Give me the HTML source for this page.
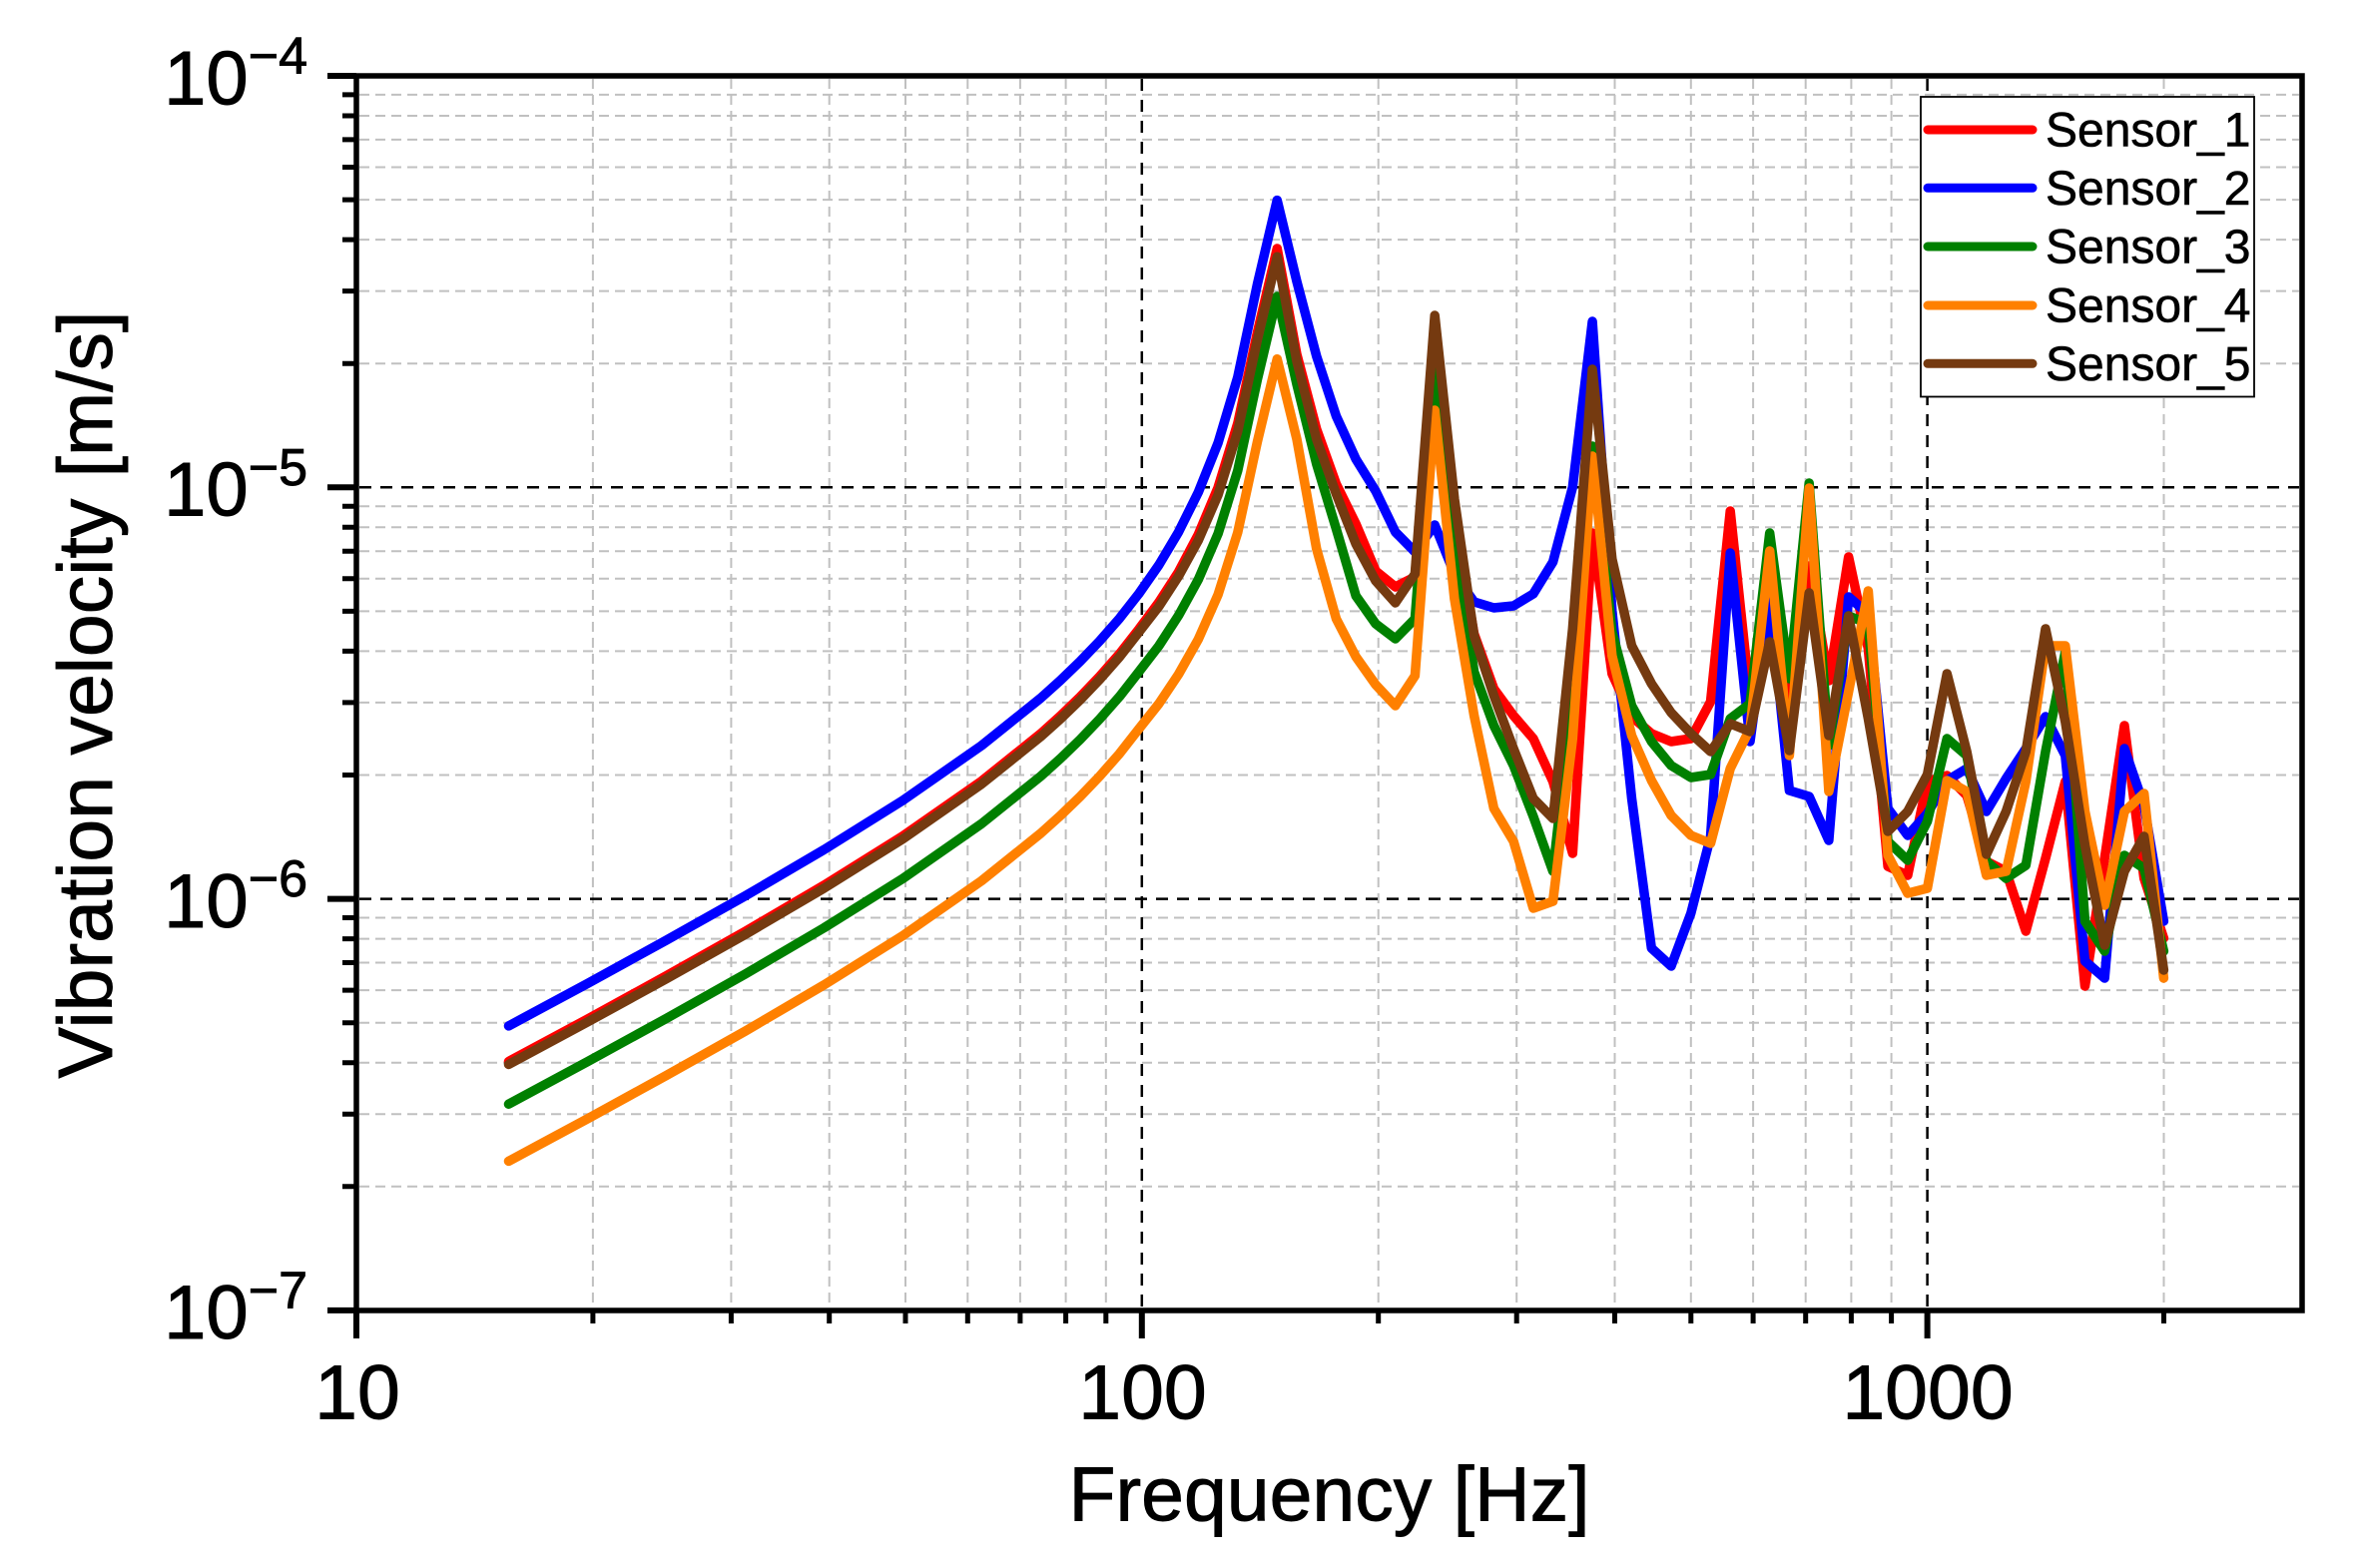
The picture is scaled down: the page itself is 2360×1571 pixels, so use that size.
<!DOCTYPE html>
<html><head><meta charset="utf-8"><style>html,body{margin:0;padding:0;background:#fff}svg{display:block}</style></head>
<body>
<svg width="2360" height="1571" viewBox="0 0 2360 1571" xmlns="http://www.w3.org/2000/svg" font-family="'Liberation Sans', Arial, sans-serif">
<rect width="2360" height="1571" fill="#fff"/>
<!-- minor grid -->
<g stroke="#c0c0c0" stroke-width="2" stroke-dasharray="10 6" fill="none">
<path d="M593.9 79V1310M732.4 79V1310M830.7 79V1310M907 79V1310M969.3 79V1310M1021.9 79V1310M1067.6 79V1310M1107.8 79V1310M1380.7 79V1310M1519.2 79V1310M1617.5 79V1310M1693.8 79V1310M1756.1 79V1310M1808.7 79V1310M1854.4 79V1310M1894.6 79V1310M2167.5 79V1310"/>
<path d="M360 94.9H2303M360 116H2303M360 139.9H2303M360 167.5H2303M360 200.1H2303M360 240.1H2303M360 291.6H2303M360 364.2H2303M360 507.2H2303M360 528.3H2303M360 552.2H2303M360 579.8H2303M360 612.4H2303M360 652.4H2303M360 703.9H2303M360 776.5H2303M360 919.5H2303M360 940.6H2303M360 964.5H2303M360 992.1H2303M360 1024.7H2303M360 1064.7H2303M360 1116.2H2303M360 1188.8H2303"/>
</g>
<!-- major grid -->
<g stroke="#000" stroke-width="2.5" stroke-dasharray="12 9" fill="none">
<path d="M1143.8 79V1310M1930.6 79V1310M360 488.3H2303M360 900.6H2303"/>
</g>
<!-- series -->
<g fill="none" stroke-width="9.5" stroke-linejoin="round" stroke-linecap="round">
<polyline stroke="#ff0000" points="509.5,1063.5 588.5,1021 667.4,977.7 746.4,933.3 825.3,887 904.3,837.6 983.2,782.6 1042.4,735.1 1062.2,717.3 1081.9,698.3 1101.6,677.7 1121.4,655.2 1141.1,630 1160.9,603.3 1180.6,572.9 1200.3,535.6 1220.1,488.4 1239.8,424.2 1259.5,333 1279.3,249 1299,355 1318.8,430 1338.5,485 1358.2,525 1378,572 1397.7,588 1417.4,578 1437.2,330 1456.9,520 1476.6,635 1496.4,690 1516.1,717 1535.9,740 1555.6,783 1575.3,855 1595.1,534 1614.8,675 1634.5,718 1654.3,735 1674,743 1693.8,740 1713.5,703 1733.2,512 1753,700 1772.7,610 1792.4,712 1812.2,567 1831.9,682 1851.7,558 1871.4,650 1891.1,868 1910.9,877 1930.6,783 1950.3,777 1970.1,797 1989.8,863 2009.5,873 2029.3,933 2049,860 2068.8,783 2088.5,988 2108.2,860 2128,727 2147.7,880 2167.4,940"/>
<polyline stroke="#0000ff" points="509.5,1027.9 588.5,985.4 667.4,942.1 746.4,897.7 825.3,851.4 904.3,802 983.2,747 1042.4,699.5 1062.2,681.7 1081.9,662.7 1101.6,642.1 1121.4,619.6 1141.1,594.4 1160.9,566 1180.6,532.9 1200.3,493.3 1220.1,443.8 1239.8,377.9 1259.5,284.6 1279.3,200.6 1299,282 1318.8,357 1338.5,417 1358.2,460 1378,492 1397.7,533 1417.4,553 1437.2,526 1456.9,575 1476.6,603 1496.4,609 1516.1,607 1535.9,595 1555.6,563 1575.3,488 1595.1,322 1614.8,612 1634.5,800 1654.3,950 1674,968 1693.8,915 1713.5,838 1733.2,554 1753,743 1772.7,600 1792.4,792 1812.2,798 1831.9,842 1851.7,598 1871.4,615 1891.1,810 1910.9,837 1930.6,815 1950.3,782 1970.1,770 1989.8,813 2009.5,780 2029.3,750 2049,718 2068.8,757 2088.5,963 2108.2,980 2128,750 2147.7,807 2167.4,923"/>
<polyline stroke="#008000" points="509.5,1106.2 588.5,1063.7 667.4,1020.4 746.4,976 825.3,929.7 904.3,880.3 983.2,825.3 1042.4,777.8 1062.2,760 1081.9,741 1101.6,720.4 1121.4,697.9 1141.1,672.7 1160.9,647 1180.6,616.6 1200.3,580.7 1220.1,534.8 1239.8,471.6 1259.5,380.1 1279.3,297 1299,385 1318.8,465 1338.5,530 1358.2,597 1378,625 1397.7,640 1417.4,620 1437.2,368 1456.9,538 1476.6,673 1496.4,727 1516.1,767 1535.9,818 1555.6,873 1575.3,697 1595.1,447 1614.8,633 1634.5,707 1654.3,743 1674,767 1693.8,779 1713.5,776 1733.2,720 1753,705 1772.7,534 1792.4,680 1812.2,484 1831.9,747 1851.7,617 1871.4,625 1891.1,843 1910.9,862 1930.6,823 1950.3,740 1970.1,757 1989.8,863 2009.5,880 2029.3,867 2049,753 2068.8,653 2088.5,923 2108.2,953 2128,857 2147.7,870 2167.4,953"/>
<polyline stroke="#ff8000" points="509.5,1163.4 588.5,1120.9 667.4,1077.6 746.4,1033.2 825.3,986.9 904.3,937.5 983.2,882.5 1042.4,835 1062.2,817.2 1081.9,798.2 1101.6,777.6 1121.4,755.1 1141.1,729.9 1160.9,705 1180.6,675.5 1200.3,640.6 1220.1,595.8 1239.8,533.5 1259.5,442.5 1279.3,359.7 1299,440 1318.8,550 1338.5,620 1358.2,658 1378,686 1397.7,707 1417.4,677 1437.2,411 1456.9,600 1476.6,717 1496.4,810 1516.1,843 1535.9,910 1555.6,903 1575.3,740 1595.1,457 1614.8,657 1634.5,737 1654.3,782 1674,817 1693.8,837 1713.5,845 1733.2,770 1753,730 1772.7,552 1792.4,757 1812.2,489 1831.9,793 1851.7,693 1871.4,592 1891.1,857 1910.9,895 1930.6,890 1950.3,782 1970.1,793 1989.8,877 2009.5,873 2029.3,783 2049,647 2068.8,647 2088.5,813 2108.2,907 2128,813 2147.7,795 2167.4,980"/>
<polyline stroke="#753a10" points="509.5,1066.5 588.5,1024 667.4,980.7 746.4,936.3 825.3,890 904.3,840.6 983.2,785.6 1042.4,738.1 1062.2,720.3 1081.9,701.3 1101.6,680.7 1121.4,658.2 1141.1,633 1160.9,607.5 1180.6,577.2 1200.3,541.5 1220.1,495.8 1239.8,432.2 1259.5,340.3 1279.3,257.3 1299,362 1318.8,440 1338.5,495 1358.2,545 1378,582 1397.7,604 1417.4,575 1437.2,316 1456.9,500 1476.6,637 1496.4,697 1516.1,750 1535.9,800 1555.6,820 1575.3,630 1595.1,370 1614.8,560 1634.5,647 1654.3,685 1674,714 1693.8,735 1713.5,753 1733.2,725 1753,733 1772.7,643 1792.4,752 1812.2,594 1831.9,737 1851.7,617 1871.4,720 1891.1,833 1910.9,813 1930.6,776 1950.3,675 1970.1,753 1989.8,856 2009.5,813 2029.3,753 2049,630 2068.8,723 2088.5,847 2108.2,947 2128,873 2147.7,838 2167.4,972"/>
</g>
<!-- axes -->
<path d="M357 76H2306V1313H357Z" fill="none" stroke="#000" stroke-width="5.5"/>
<g stroke="#000" stroke-width="6" fill="none">
<path d="M328 76H357M328 488.3H357M328 900.6H357M328 1312.9H357"/>
<path d="M357 1313V1341M1143.8 1313V1341M1930.6 1313V1341"/>
</g>
<g stroke="#000" stroke-width="5" fill="none">
<path d="M343 94.9H357M343 116H357M343 139.9H357M343 167.5H357M343 200.1H357M343 240.1H357M343 291.6H357M343 364.2H357M343 507.2H357M343 528.3H357M343 552.2H357M343 579.8H357M343 612.4H357M343 652.4H357M343 703.9H357M343 776.5H357M343 919.5H357M343 940.6H357M343 964.5H357M343 992.1H357M343 1024.7H357M343 1064.7H357M343 1116.2H357M343 1188.8H357"/>
<path d="M593.9 1313V1326M732.4 1313V1326M830.7 1313V1326M907 1313V1326M969.3 1313V1326M1021.9 1313V1326M1067.6 1313V1326M1107.8 1313V1326M1380.7 1313V1326M1519.2 1313V1326M1617.5 1313V1326M1693.8 1313V1326M1756.1 1313V1326M1808.7 1313V1326M1854.4 1313V1326M1894.6 1313V1326M2167.5 1313V1326"/>
</g>
<!-- y tick labels -->
<g fill="#000" stroke="#000" stroke-width="0.9" font-size="76" text-anchor="end">
<text x="308" y="104.3">10<tspan font-size="52" dy="-30.7">−4</tspan></text>
<text x="308" y="516.6">10<tspan font-size="52" dy="-30.7">−5</tspan></text>
<text x="308" y="928.9">10<tspan font-size="52" dy="-30.7">−6</tspan></text>
<text x="308" y="1341.2">10<tspan font-size="52" dy="-30.7">−7</tspan></text>
</g>
<!-- x tick labels -->
<g fill="#000" stroke="#000" stroke-width="0.9" font-size="77" text-anchor="middle">
<text x="358" y="1421.7">10</text>
<text x="1144.5" y="1421.7">100</text>
<text x="1931" y="1421.7">1000</text>
</g>
<!-- axis titles -->
<text x="1331.5" y="1523.3" text-anchor="middle" font-size="77" fill="#000" stroke="#000" stroke-width="0.9">Frequency [Hz]</text>
<text transform="translate(112,696) rotate(-90)" text-anchor="middle" font-size="77" fill="#000" stroke="#000" stroke-width="0.9">Vibration velocity [m/s]</text>
<!-- legend -->
<rect x="1924" y="97" width="334" height="300.5" fill="#fff" stroke="#000" stroke-width="1.8"/>
<g stroke-width="9" stroke-linecap="round" fill="none">
<path d="M1931 130H2036" stroke="#ff0000"/>
<path d="M1931 188.3H2036" stroke="#0000ff"/>
<path d="M1931 247H2036" stroke="#008000"/>
<path d="M1931 306H2036" stroke="#ff8000"/>
<path d="M1931 364.3H2036" stroke="#753a10"/>
</g>
<g fill="#000" stroke="#000" stroke-width="0.6" font-size="48">
<text x="2049" y="146.7">Sensor_1</text>
<text x="2049" y="205">Sensor_2</text>
<text x="2049" y="263.7">Sensor_3</text>
<text x="2049" y="322.7">Sensor_4</text>
<text x="2049" y="381">Sensor_5</text>
</g>
</svg>
</body></html>
